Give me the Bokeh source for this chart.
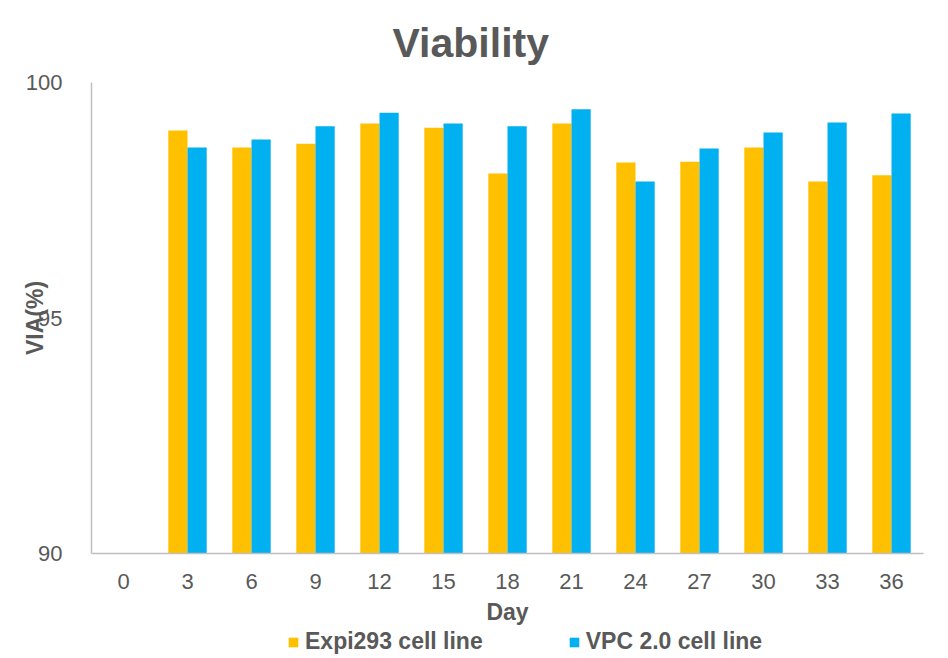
from bokeh.plotting import figure
from bokeh.models import ColumnDataSource, FactorRange, Legend, LegendItem, Title
from bokeh.layouts import column
from bokeh.transform import dodge
from bokeh.embed import file_html
from bokeh.resources import INLINE

days = ["0", "3", "6", "9", "12", "15", "18", "21", "24", "27", "30", "33", "36"]
expi293 = [float("nan"), 98.98, 98.62, 98.70, 99.13, 99.04, 98.07, 99.13, 98.30, 98.32, 98.62, 97.90, 98.03]
vpc20 = [float("nan"), 98.62, 98.79, 99.07, 99.36, 99.13, 99.07, 99.43, 97.90, 98.60, 98.94, 99.15, 99.34]
series_names = ["Expi293 cell line", "VPC 2.0 cell line"]
legend_proxy_x = [0]
legend_proxy_h = [0]

GRAY = "#595959"
FONT = "Liberation Sans"
ORANGE = "#FFC000"
BLUE = "#00B0F0"

src = ColumnDataSource(dict(day=days, expi=expi293, vpc=vpc20))

p = figure(frame_width=832, frame_height=471,
           x_range=FactorRange(*days, range_padding=0),
           y_range=(90, 100), output_backend="svg", toolbar_location=None,
           min_border_left=91, min_border_top=82, min_border_right=17, min_border_bottom=70)
p.x_range.factor_padding = 0
p.outline_line_color = None
p.grid.grid_line_color = None
p.background_fill_color = "white"

bw = 0.3
p.vbar(x=dodge("day", -0.15, range=p.x_range), top="expi", bottom=90, width=bw,
       source=src, color=ORANGE, line_color=None)
p.vbar(x=dodge("day", 0.15, range=p.x_range), top="vpc", bottom=90, width=bw,
       source=src, color=BLUE, line_color=None)

p.title = Title(text="Viability", align="left", text_font=FONT, text_font_size="41px",
                text_font_style="bold", text_color=GRAY, offset=301, standoff=33)

for ax in (p.xaxis[0], p.yaxis[0]):
    ax.major_tick_line_color = None
    ax.minor_tick_line_color = None
    ax.axis_line_color = "#BFBFBF"
    ax.axis_line_width = 1.5
    ax.major_label_text_font = FONT
    ax.major_label_text_font_size = "22px"
    ax.major_label_text_color = GRAY
    ax.axis_label_text_font = FONT
    ax.axis_label_text_font_size = "23px"
    ax.axis_label_text_font_style = "bold"
    ax.axis_label_text_color = GRAY

p.yaxis.ticker = [90, 95, 100]
p.yaxis.major_label_standoff = 23
p.yaxis.axis_label = "VIA(%)"
p.yaxis.axis_label_standoff = -25
p.xaxis.major_label_standoff = 14
p.xaxis.axis_label = "Day"
p.xaxis.axis_label_standoff = 7

# legend strip below the chart
lf = figure(width=940, height=30, x_range=(0, 940), y_range=(0, 30),
            output_backend="svg", toolbar_location=None,
            min_border_left=0, min_border_right=0, min_border_top=0, min_border_bottom=0)
lf.axis.visible = False
lf.grid.grid_line_color = None
lf.outline_line_color = None
d1 = lf.vbar(x=legend_proxy_x, top=legend_proxy_h, bottom=legend_proxy_h, width=0,
             color=ORANGE, line_color=None)
d2 = lf.vbar(x=legend_proxy_x, top=legend_proxy_h, bottom=legend_proxy_h, width=0,
             color=BLUE, line_color=None)
legend = Legend(items=[LegendItem(label=series_names[0], renderers=[d1]),
                       LegendItem(label=series_names[1], renderers=[d2])],
                orientation="horizontal", location=(196, 2),
                label_text_font=FONT, label_text_font_size="23px", label_text_font_style="bold",
                label_text_color=GRAY, glyph_width=12, glyph_height=12, spacing=85,
                label_standoff=6, label_height=20, border_line_color=None, padding=0, margin=0,
                background_fill_alpha=0)
lf.add_layout(legend, "center")

layout = column(p, lf, spacing=0)
open("out.html", "w").write(file_html(layout, INLINE))
